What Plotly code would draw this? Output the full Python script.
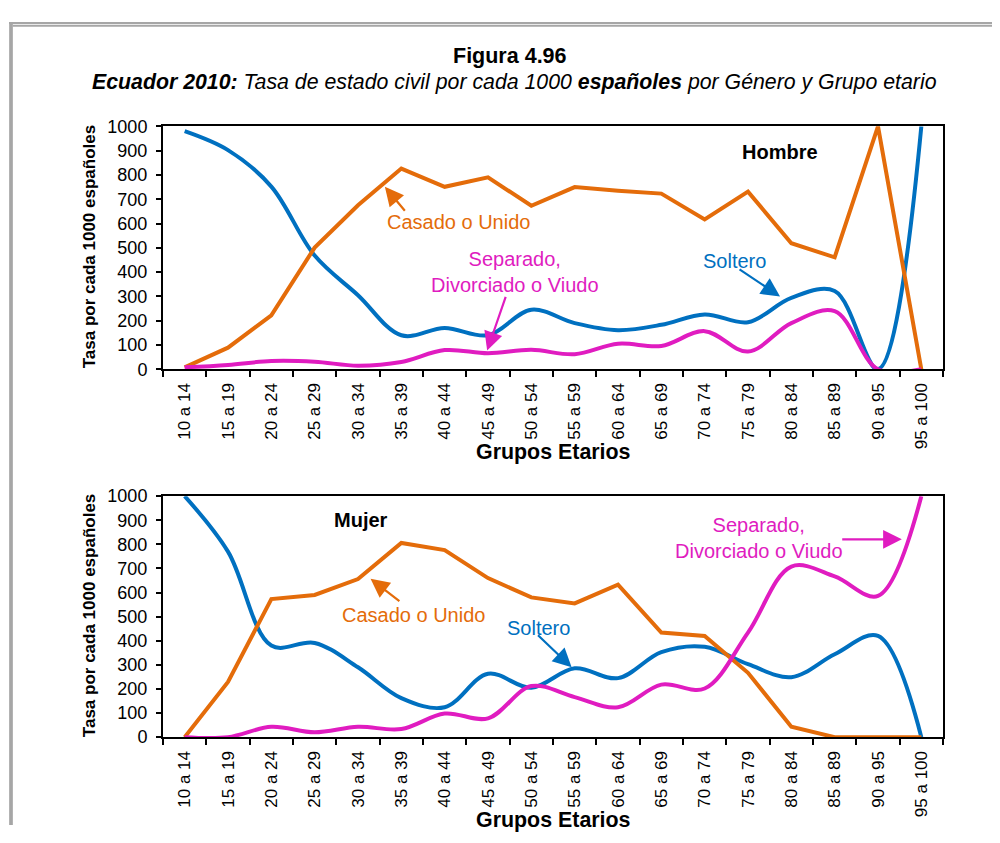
import plotly.graph_objects as go

categories = ["10 a 14", "15 a 19", "20 a 24", "25 a 29", "30 a 34", "35 a 39",
              "40 a 44", "45 a 49", "50 a 54", "55 a 59", "60 a 64", "65 a 69",
              "70 a 74", "75 a 79", "80 a 84", "85 a 89", "90 a 95", "95 a 100"]

hombre_soltero = [980, 902, 752, 468, 305, 140, 170, 140, 245, 190, 161, 183, 226, 194, 294, 322, 0, 1000]
hombre_casado = [8, 89, 222, 501, 675, 826, 751, 790, 673, 750, 735, 723, 617, 731, 519, 461, 1000, 0]
hombre_separado = [8, 18, 34, 31, 15, 30, 79, 66, 80, 62, 105, 96, 157, 73, 190, 239, 0, 0]

mujer_soltero = [1000, 770, 380, 391, 290, 162, 124, 263, 205, 286, 245, 353, 375, 303, 249, 344, 420, 0]
mujer_casado = [0, 229, 573, 590, 656, 806, 776, 660, 580, 555, 633, 434, 420, 267, 43, 0, 0, 0]
mujer_separado = [0, 0, 43, 20, 43, 34, 98, 78, 212, 166, 124, 218, 202, 434, 708, 667, 586, 1000]

BLUE = "#0070C0"
ORANGE = "#E46C0A"
MAGENTA = "#E01CC0"
FONT = "Liberation Sans, Arial, sans-serif"
PAGE_MARGIN = 8            # default body margin of the html page
W, H = 1000 - 2 * PAGE_MARGIN, 843 - 2 * PAGE_MARGIN

fig = go.Figure()

def add_series(vals, color, shape, xa, ya):
    fig.add_trace(go.Scatter(x=categories, y=vals, mode="lines",
                             line=dict(color=color, width=4, shape=shape, smoothing=1),
                             xaxis=xa, yaxis=ya, showlegend=False, hoverinfo="skip"))

add_series(hombre_soltero, BLUE, "spline", "x", "y")
add_series(hombre_casado, ORANGE, "linear", "x", "y")
add_series(hombre_separado, MAGENTA, "spline", "x", "y")
add_series(mujer_soltero, BLUE, "spline", "x2", "y2")
add_series(mujer_casado, ORANGE, "linear", "x2", "y2")
add_series(mujer_separado, MAGENTA, "spline", "x2", "y2")

# page-pixel -> paper helpers
def px(x):
    return (x - PAGE_MARGIN) / W

def py(y):
    return 1 - (y - PAGE_MARGIN) / H

xdom = [px(163), px(943)]
top_dom = [py(368), py(119)]
bot_dom = [py(745), py(498)]

xcommon = dict(type="category", categoryorder="array", categoryarray=categories,
               range=[-0.5, 17.5], tickson="boundaries", ticks="outside", ticklen=6,
               tickwidth=1.5, tickcolor="black", tickangle=-90, ticklabelstandoff=5,
               tickfont=dict(family=FONT, size=17, color="black"),
               showline=True, linecolor="black", linewidth=2, mirror=True,
               showgrid=False, zeroline=False, domain=xdom)
ycommon = dict(range=[0, 1000], dtick=100, ticks="outside", ticklen=5, tickwidth=1.5,
               tickcolor="black", ticklabelstandoff=5,
               tickfont=dict(family=FONT, size=18, color="black"),
               showline=True, linecolor="black", linewidth=2, mirror=True,
               showgrid=False, zeroline=False)

fig.update_layout(
    width=W, height=H, margin=dict(l=0, r=0, t=0, b=0),
    paper_bgcolor="white", plot_bgcolor="white",
    xaxis=dict(xcommon, anchor="y"),
    yaxis=dict(ycommon, domain=top_dom, anchor="x"),
    xaxis2=dict(xcommon, anchor="y2"),
    yaxis2=dict(ycommon, domain=bot_dom, anchor="x2"),
)

ann = []

def text(x, y, t, size, color="black"):
    ann.append(dict(x=px(x), y=py(y), xref="paper", yref="paper", text=t, showarrow=False,
                    font=dict(family=FONT, size=size, color=color),
                    xanchor="center", yanchor="middle", align="center"))

def arrow(xr, yr, tip, tail, color):
    ann.append(dict(x=tip[0], y=tip[1], ax=tail[0], ay=tail[1], xref=xr, yref=yr,
                    axref=xr, ayref=yr, text="", showarrow=True, arrowhead=2,
                    arrowsize=1.7, arrowwidth=2.2, arrowcolor=color))

# titles
text(510, 47, "<b>Figura 4.96</b>", 21.5)
text(514, 74, "<b><i>Ecuador 2010:</i></b><i> Tasa de estado civil por cada 1000 </i>"
              "<b><i>españoles</i></b><i> por Género y Grupo etario</i>", 21.3)

# axis titles
for yc, xt in [(243, 453), (621, 830)]:
    ann.append(dict(x=px(89), y=py(yc), xref="paper", yref="paper",
                    text="<b>Tasa por cada 1000 españoles</b>", textangle=-90,
                    showarrow=False, font=dict(family=FONT, size=17, color="black"),
                    xanchor="center", yanchor="middle"))
    text(553, xt, "<b>Grupos Etarios</b>", 21.4)

# top panel
text(780, 145, "<b>Hombre</b>", 20)
text(458, 217, "Casado o Unido", 20, ORANGE)
arrow("x", "y", (4.62, 751), (5.11, 646), ORANGE)
text(515, 268, "Separado,<br>Divorciado o Viudo", 20, MAGENTA)
arrow("x", "y", (6.98, 77), (7.42, 304), MAGENTA)
text(734, 257, "Soltero", 20, BLUE)
arrow("x", "y", (13.74, 300), (12.77, 415), BLUE)

# bottom panel
text(361, 522, "<b>Mujer</b>", 20)
text(413, 620, "Casado o Unido", 20, ORANGE)
arrow("x2", "y2", (4.29, 657), (4.99, 560), ORANGE)
text(538, 633, "Soltero", 20, BLUE)
arrow("x2", "y2", (8.93, 290), (8.12, 429), BLUE)
text(759, 541, "Separado,<br>Divorciado o Viudo", 20, MAGENTA)
arrow("x2", "y2", (16.55, 821), (15.14, 821), MAGENTA)

fig.update_layout(annotations=ann)

# frame
GRAY = "#A6A6A6"
shapes = [
    dict(type="line", xref="paper", yref="paper", x0=px(9), x1=1, y0=py(13), y1=py(13),
         line=dict(color=GRAY, width=2)),
    dict(type="line", xref="paper", yref="paper", x0=px(12.7), x1=1, y0=py(16), y1=py(16),
         line=dict(color=GRAY, width=2)),
    dict(type="line", xref="paper", yref="paper", x0=px(11), x1=px(11), y0=py(12), y1=0,
         line=dict(color=GRAY, width=3.7)),
]
fig.update_layout(shapes=shapes)

fig.write_html("out.html", config={"displayModeBar": False})
